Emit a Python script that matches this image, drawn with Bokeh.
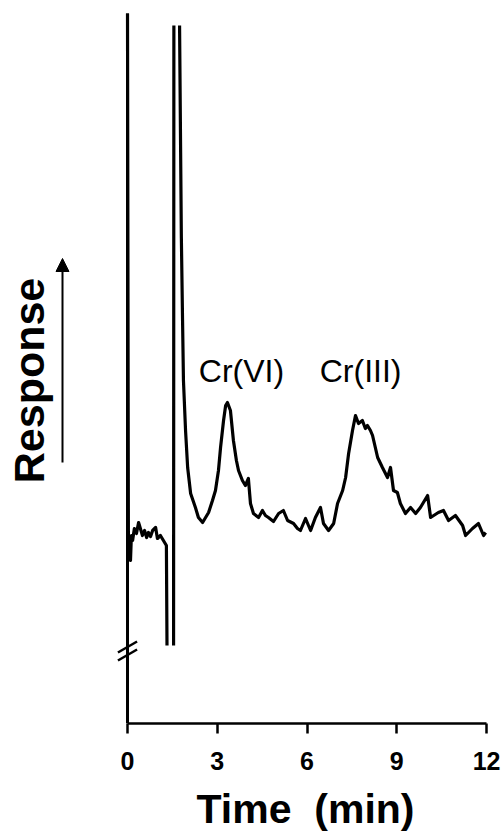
import math
from bokeh.plotting import figure
from bokeh.layouts import row
from bokeh.models import Range1d, FixedTicker, Arrow, NormalHead
from bokeh.core.properties import value
from bokeh.embed import file_html
from bokeh.resources import INLINE

NaN = float("nan")

# Chromatogram trace (time in min, response in arbitrary units); NaN = pen off scale
time_min = [
    0.00, 0.03, 0.07, 0.10, 0.13, 0.17, 0.23, 0.30, 0.37, 0.43, 0.50, 0.57, 0.64,
    0.70, 0.77, 0.84, 0.94, 1.00, 1.10, 1.20, 1.30, 1.32, NaN,
    1.54, 1.55, NaN,
    1.74, 1.80, 1.84, 1.87, 1.94, 2.01, 2.11, 2.27, 2.37, 2.51, 2.61, 2.71, 2.84,
    2.94, 3.04, 3.11, 3.21, 3.28, 3.34, 3.44, 3.54, 3.64, 3.71, 3.84, 3.94, 4.04,
    4.11, 4.21, 4.38, 4.51, 4.61, 4.71, 4.88, 5.05, 5.21, 5.35, 5.55, 5.68, 5.78,
    5.95, 6.12, 6.28, 6.45, 6.55, 6.72, 6.89, 7.02, 7.19, 7.29, 7.39, 7.52, 7.62,
    7.72, 7.85, 7.95, 8.02, 8.12, 8.19, 8.36, 8.52, 8.69, 8.79, 8.89, 9.02, 9.12,
    9.29, 9.46, 9.63, 9.79, 10.03, 10.13, 10.39, 10.56, 10.73, 10.96, 11.20, 11.30,
    11.53, 11.73, 11.90, 11.97,
]
response = [
    710, 175, 168, 163, 188, 183, 195, 190, 201, 195, 188, 193, 186,
    191, 187, 193, 196, 185, 188, 183, 178, 78, NaN,
    78, 698, NaN,
    698, 486, 403, 343, 293, 256, 230, 216, 206, 201, 206, 211, 223,
    233, 253, 276, 303, 318, 321, 313, 283, 263, 253, 243, 238, 245,
    220, 210, 206, 213, 208, 206, 202, 210, 213, 203, 200, 195, 193,
    205, 193, 206, 216, 200, 193, 200, 220, 233, 246, 270, 293, 308,
    300, 303, 295, 298, 293, 288, 266, 256, 246, 256, 233, 231, 220,
    210, 216, 210, 216, 228, 206, 211, 213, 203, 208, 198, 188,
    195, 200, 188, 191,
]

peak_labels = ["Cr(VI)", "Cr(III)"]
peak_label_time = [3.81, 7.79]
peak_label_resp = [353, 353]

x_ticks = [0, 3, 6, 9, 12]
x_label = "Time\u00a0 (min)"
y_label = "Response"

FONT = "Liberation Sans"

# ---------------- left strip: y-axis title with arrow ----------------
left = figure(
    width=106, height=840, x_range=Range1d(0, 106), y_range=Range1d(0, 723),
    output_backend="svg", toolbar_location=None,
    x_axis_location=None, y_axis_location=None,
    min_border_left=0, min_border_right=0, min_border_top=0, min_border_bottom=117,
)
left.outline_line_color = None
left.xgrid.visible = False
left.ygrid.visible = False
left.text(x=[28], y=[343], text=[y_label], angle=math.pi / 2,
          text_font=value(FONT), text_font_size="43px", text_font_style="bold",
          text_align="center", text_baseline="alphabetic", text_color="black")
left.add_layout(Arrow(end=NormalHead(size=13, fill_color="black", line_color="black"),
                      x_start=62, y_start=261, x_end=62, y_end=465,
                      line_color="black", line_width=2))

# ---------------- main chromatogram ----------------
p = figure(
    width=398, height=840,
    x_range=Range1d(-0.702, 12.60), y_range=Range1d(0, 723),
    output_backend="svg", toolbar_location=None, y_axis_location=None,
    min_border_left=0, min_border_right=0, min_border_top=0, min_border_bottom=117,
)
p.outline_line_color = None
p.xgrid.visible = False
p.ygrid.visible = False
p.background_fill_color = "white"
p.border_fill_color = "white"

ax = p.xaxis[0]
ax.bounds = (0, 12)
ax.ticker = FixedTicker(ticks=x_ticks)
ax.minor_tick_line_color = None
ax.major_tick_in = 0
ax.major_tick_out = 10
ax.axis_line_width = 2.5
ax.major_tick_line_width = 2.5
ax.axis_line_color = "black"
ax.major_tick_line_color = "black"
ax.major_label_text_font = FONT
ax.major_label_text_font_size = "25px"
ax.major_label_text_font_style = "bold"
ax.major_label_text_color = "black"
ax.major_label_standoff = 18
ax.axis_label = x_label
ax.axis_label_text_font = FONT
ax.axis_label_text_font_size = "41px"
ax.axis_label_text_font_style = "bold"
ax.axis_label_text_color = "black"
ax.axis_label_standoff = 13

# vertical axis line at t = 0
p.segment(x0=[0], y0=[0], x1=[0], y1=[710], line_color="black", line_width=3)

# axis break marks
p.segment(x0=[-0.32, -0.32], y0=[71, 63], x1=[0.32, 0.32], y1=[82, 74],
          line_color="black", line_width=2.5)

# trace
p.line(time_min, response, line_color="black", line_width=3.2, line_join="round")

# peak labels
p.text(x=peak_label_time, y=peak_label_resp, text=peak_labels,
       text_font=value(FONT), text_font_size="32px", text_align="center",
       text_baseline="alphabetic", text_color="black")

layout = row(left, p, spacing=0)
open("out.html", "w").write(file_html(layout, INLINE))
